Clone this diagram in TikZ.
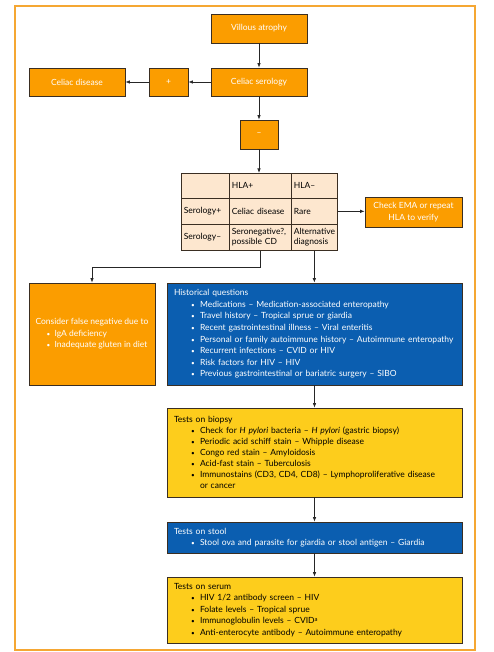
\documentclass[tikz,border=0pt]{standalone}
\usepackage{fontspec}
\setmainfont{Lato}
\usetikzlibrary{arrows.meta}
\definecolor{frameor}{HTML}{F5A733}
\definecolor{orfill}{HTML}{FB9D00}
\definecolor{bluefill}{HTML}{0B5EB0}
\definecolor{yelfill}{HTML}{FDCD1C}
\definecolor{peach}{HTML}{FDE7CF}
\definecolor{boxline}{HTML}{3A2E22}
\newcommand\bl[1]{\\\hspace*{17pt}\makebox[9pt][l]{\scalebox{.75}{\textbullet}}#1}
\tikzset{
  txt/.style={font=\fontsize{8.5}{11.6}\selectfont},
  obox/.style={txt, draw=boxline, fill=orfill, text=white, line width=0.8pt, align=center, inner sep=0pt},
  listbox/.style={txt, draw=boxline, line width=0.8pt, align=left, inner xsep=7pt, inner ysep=0pt, text width=281pt, minimum height=#1},
  bbox/.style={listbox=#1, fill=bluefill, text=white},
  ybox/.style={listbox=#1, fill=yelfill, text=black},
  cell/.style={font=\fontsize{8.5}{10.5}\selectfont, draw=boxline, fill=peach, line width=0.7pt, anchor=north west, align=left, inner xsep=2.5pt, inner ysep=0pt, text=black},
  conn/.style={-{Latex[length=4.5pt,width=3.5pt]}, line width=0.7pt, draw=black!85}
}
\begin{document}
\begin{tikzpicture}[x=1pt,y=-1pt]
\useasboundingbox (0,0) rectangle (493,652);
\draw[frameor, line width=1.8pt] (15,6) rectangle (475,650);

\node[obox, minimum width=96pt, minimum height=29pt] (va) at (259,28.5) {Villous atrophy};
\node[obox, minimum width=96pt, minimum height=28pt] (cs) at (259,82) {Celiac serology};
\node[obox, minimum width=39pt, minimum height=28pt] (plus) at (168.5,82) {+};
\node[obox, minimum width=96pt, minimum height=28pt] (cd) at (77,82) {Celiac disease};
\node[obox, minimum width=38pt, minimum height=29pt] (minus) at (259,134.5) {–};

% table
\node[cell, text width=43pt, minimum height=25pt] (t11) at (181,173) {};
\node[cell, text width=57pt, minimum height=25pt] (t12) at (229,173) {HLA+\\[3pt]};
\node[cell, text width=41pt, minimum height=25pt] (t13) at (291,173) {HLA–\\[3pt]};
\node[cell, text width=43pt, minimum height=26pt] (t21) at (181,198) {Serology+};
\node[cell, text width=57pt, minimum height=26pt] (t22) at (229,198) {Celiac disease};
\node[cell, text width=41pt, minimum height=26pt] (t23) at (291,198) {Rare};
\node[cell, text width=43pt, minimum height=26pt] (t31) at (181,224) {Serology–\\[3pt]};
\node[cell, text width=57pt, minimum height=26pt] (t32) at (229,224) {Seronegative?,\\possible CD};
\node[cell, text width=41pt, minimum height=26pt] (t33) at (291,224) {Alternative\\diagnosis};

\node[obox, minimum width=97pt, minimum height=30pt] (ema) at (413.5,212) {Check EMA or repeat\\HLA to verify};

\node[obox, minimum width=126pt, minimum height=102pt, align=left, inner xsep=3pt] (cfn) at (92,334)
  {Consider false negative due to\\
   \hspace*{11pt}\makebox[8pt][l]{\scalebox{.75}{\textbullet}}IgA deficiency\\
   \hspace*{11pt}\makebox[8pt][l]{\scalebox{.75}{\textbullet}}Inadequate gluten in diet};

\node[bbox=102pt] (hq) at (314.5,334) {Historical questions
  \bl{Medications – Medication-associated enteropathy}
  \bl{Travel history – Tropical sprue or giardia}
  \bl{Recent gastrointestinal illness – Viral enteritis}
  \bl{Personal or family autoimmune history – Autoimmune enteropathy}
  \bl{Recurrent infections – CVID or HIV}
  \bl{Risk factors for HIV – HIV}
  \bl{Previous gastrointestinal or bariatric surgery – SIBO}};

\node[ybox=89pt, font=\fontsize{8.5}{10.9}\selectfont] (bio) at (314.5,452.5) {Tests on biopsy
  \bl{Check for \textit{H pylori} bacteria – \textit{H pylori} (gastric biopsy)}
  \bl{Periodic acid schiff stain – Whipple disease}
  \bl{Congo red stain – Amyloidosis}
  \bl{Acid-fast stain – Tuberculosis}
  \bl{Immunostains (CD3, CD4, CD8) – Lymphoproliferative disease}
  \\\hspace*{26pt}or cancer};

\node[bbox=31pt] (stool) at (314.5,537.5) {Tests on stool
  \bl{Stool ova and parasite for giardia or stool antigen – Giardia}};

\node[ybox=66pt] (serum) at (314.5,610) {Tests on serum
  \bl{HIV 1/2 antibody screen – HIV}
  \bl{Folate levels – Tropical sprue}
  \bl{Immunoglobulin levels – CVID\textsuperscript{a}}
  \bl{Anti-enterocyte antibody – Autoimmune enteropathy}};

\draw[conn] (va) -- (cs);
\draw[conn] (cs) -- (plus);
\draw[conn] (plus) -- (cd);
\draw[conn] (cs) -- (minus);
\draw[conn] (minus.south) -- (minus.south |- t12.north);
\draw[conn] (t23.east) -- (t23.east -| ema.west);
\draw[conn] (t32.south) -- ++(0,17) -| (cfn.north);
\draw[conn] (t33.south) -- (t33.south |- hq.north);
\draw[conn] (hq) -- (bio);
\draw[conn] (bio) -- (stool);
\draw[conn] (stool) -- (serum);
\end{tikzpicture}
\end{document}
